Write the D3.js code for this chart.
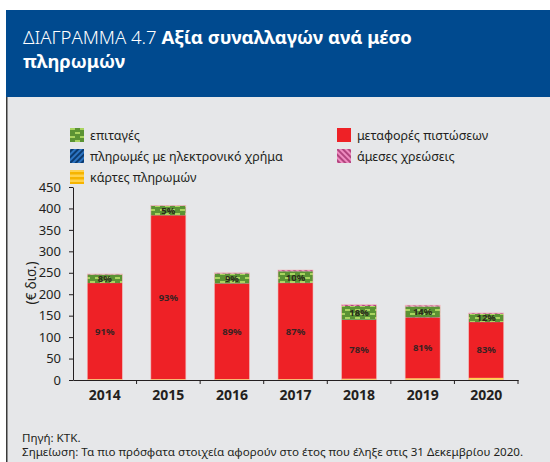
<!DOCTYPE html>
<html>
<head>
<meta charset="utf-8">
<script src="https://cdnjs.cloudflare.com/ajax/libs/d3/7.8.5/d3.min.js"></script>
<style>
	body { margin: 0; background: #fff; }
	svg { display: block; font-family: "Noto Sans", sans-serif; }
</style>
</head>
<body>
<div id="chart"></div>
<script>
//	Values in € bn
var years = ["2014", "2015", "2016", "2017", "2018", "2019", "2020"];
var cards = [2, 2, 2, 2, 3, 4, 5];
var transfers = [224, 382, 223, 224, 137, 142, 130];
var eMoney = [0.2, 0.2, 0.3, 0.5, 0.5, 0.5, 0.3];
var cheques = [20, 22, 23, 27, 32, 25, 19];
var debits = [1, 1, 1.5, 3, 3, 3, 2];

var transferLabels = ["91%", "93%", "89%", "87%", "78%", "81%", "83%"];
var chequeLabels = ["8%", "5%", "9%", "10%", "18%", "14%", "12%"];
var yTicks = [0, 50, 100, 150, 200, 250, 300, 350, 400, 450];

var seriesKeys = ["cards", "transfers", "eMoney", "cheques", "debits"];
var seriesNames = {
	cheques: "επιταγές",
	transfers: "μεταφορές πιστώσεων",
	eMoney: "πληρωμές με ηλεκτρονικό χρήμα",
	debits: "άμεσες χρεώσεις",
	cards: "κάρτες πληρωμών"
};
var legendOrder = ["cheques", "transfers", "eMoney", "debits", "cards"];

var W = 550, H = 462;

var svg = d3.select("#chart")
	.append("svg")
	.attr("width", W)
	.attr("height", H);

var defs = svg.append("defs");

function patterns() {
	//	Cheques: dark green with light dashes
	var g = defs.append("pattern")
		.attr("id", "p-cheques")
		.attr("patternUnits", "userSpaceOnUse")
		.attr("width", 10)
		.attr("height", 8);
	g.append("rect").attr("width", 10).attr("height", 8).attr("fill", "#5b9334");
	g.append("rect").attr("x", 0).attr("y", 1).attr("width", 5).attr("height", 2).attr("fill", "#a9d45f");
	g.append("rect").attr("x", 5).attr("y", 5).attr("width", 5).attr("height", 2).attr("fill", "#a9d45f");

	//	E-money: blue diagonal stripes
	var b = defs.append("pattern")
		.attr("id", "p-eMoney")
		.attr("patternUnits", "userSpaceOnUse")
		.attr("width", 4)
		.attr("height", 4)
		.attr("patternTransform", "rotate(45)");
	b.append("rect").attr("width", 4).attr("height", 4).attr("fill", "#2c74c2");
	b.append("rect").attr("width", 2).attr("height", 4).attr("fill", "#0c3b70");

	//	Direct debits: pink diagonal stripes
	var p = defs.append("pattern")
		.attr("id", "p-debits")
		.attr("patternUnits", "userSpaceOnUse")
		.attr("width", 4)
		.attr("height", 4)
		.attr("patternTransform", "rotate(-45)");
	p.append("rect").attr("width", 4).attr("height", 4).attr("fill", "#ef8cc0");
	p.append("rect").attr("width", 2).attr("height", 4).attr("fill", "#b2457f");

	//	Cards: yellow horizontal stripes
	var c = defs.append("pattern")
		.attr("id", "p-cards")
		.attr("patternUnits", "userSpaceOnUse")
		.attr("width", 4)
		.attr("height", 5);
	c.append("rect").attr("width", 4).attr("height", 5).attr("fill", "#ffd24d");
	c.append("rect").attr("y", 0).attr("width", 4).attr("height", 2.5).attr("fill", "#f6b400");
}

function fillOf(key) {
	if (key == "transfers") return "#ee2126";
	return "url(#p-" + key + ")";
}

function background() {
	svg.append("rect")
		.attr("x", 6).attr("y", 97)
		.attr("width", W - 6).attr("height", H - 97)
		.attr("fill", "#e6e7e9");

	svg.append("rect")
		.attr("x", 6).attr("y", 10)
		.attr("width", W - 6).attr("height", 87)
		.attr("fill", "#004a8f");

	//	dark left edge of the panel
	svg.append("rect")
		.attr("x", 6).attr("y", 97)
		.attr("width", 1.5).attr("height", H - 97)
		.attr("fill", "#3a3a3a");

	var t = svg.append("text")
		.attr("x", 23).attr("y", 44)
		.attr("fill", "#fff")
		.attr("font-size", 18.5);
	t.append("tspan").attr("font-weight", 300).text("ΔΙΑΓΡΑΜΜΑ 4.7 ");
	t.append("tspan").attr("font-weight", 700).text("Αξία συναλλαγών ανά μέσο");

	svg.append("text")
		.attr("x", 23).attr("y", 68)
		.attr("fill", "#fff")
		.attr("font-size", 18.5)
		.attr("font-weight", 700)
		.text("πληρωμών");
}

function legend() {
	var cols = [70, 337],
		rowY = [135, 156, 177];

	legendOrder.forEach(function(key, i) {
		var gx = cols[i % 2],
			gy = rowY[Math.floor(i / 2)];
		var item = svg.append("g").attr("transform", "translate(" + gx + "," + gy + ")");
		item.append("rect")
			.attr("x", 0).attr("y", -7)
			.attr("width", 14).attr("height", 14)
			.attr("fill", fillOf(key));
		item.append("text")
			.attr("x", 20).attr("y", 4.5)
			.attr("font-size", 12.5)
			.attr("fill", "#231f20")
			.text(seriesNames[key]);
	});
}

function chart() {
	var x = d3.scaleBand()
		.domain(years)
		.range([73, 518])
		.padding(0);

	var y = d3.scaleLinear()
		.domain([0, 450])
		.range([380, 187]);

	var rows = years.map(function(yr, i) {
		return {
			year: yr,
			cards: cards[i],
			transfers: transfers[i],
			eMoney: eMoney[i],
			cheques: cheques[i],
			debits: debits[i]
		};
	});

	var stacked = d3.stack().keys(seriesKeys)(rows);
	var barW = 35;

	var layers = svg.append("g")
		.selectAll("g")
		.data(stacked)
		.join("g")
		.attr("fill", function(d) { return fillOf(d.key); });

	layers.selectAll("rect")
		.data(function(d) { return d; })
		.join("rect")
		.attr("x", function(d) { return x(d.data.year) + (x.bandwidth() - barW) / 2; })
		.attr("y", function(d) { return y(d[1]); })
		.attr("width", barW)
		.attr("height", function(d) { return y(d[0]) - y(d[1]); });

	//	thin light outline round each bar
	svg.append("g")
		.selectAll("rect")
		.data(stacked[stacked.length - 1])
		.join("rect")
		.attr("x", function(d) { return x(d.data.year) + (x.bandwidth() - barW) / 2; })
		.attr("y", function(d) { return y(d[1]); })
		.attr("width", barW)
		.attr("height", function(d) { return y(0) - y(d[1]); })
		.attr("fill", "none")
		.attr("stroke", "#f2b8b8")
		.attr("stroke-width", 0.6);

	//	Percent labels
	var red = stacked[1], green = stacked[3];
	svg.append("g")
		.selectAll("text")
		.data(red)
		.join("text")
		.attr("x", function(d) { return x(d.data.year) + x.bandwidth() / 2; })
		.attr("y", function(d) { return (y(d[0]) + y(d[1])) / 2 + 3.5; })
		.attr("text-anchor", "middle")
		.attr("font-size", 9.5)
		.attr("font-weight", 700)
		.attr("fill", "#3a2222")
		.text(function(d, i) { return transferLabels[i]; });

	svg.append("g")
		.selectAll("text")
		.data(green)
		.join("text")
		.attr("x", function(d) { return x(d.data.year) + x.bandwidth() / 2; })
		.attr("y", function(d) { return (y(d[0]) + y(d[1])) / 2 + 3.5; })
		.attr("text-anchor", "middle")
		.attr("font-size", 9.5)
		.attr("font-weight", 700)
		.attr("fill", "#2a2a1a")
		.text(function(d, i) { return chequeLabels[i]; });

	//	Axes
	var yAxis = svg.append("g")
		.attr("transform", "translate(73,0)")
		.call(d3.axisLeft(y).tickValues(yTicks).tickSize(4).tickPadding(8).tickSizeOuter(0));
	yAxis.select(".domain").attr("stroke", "#231f20");
	yAxis.selectAll(".tick line").attr("stroke", "#231f20");
	yAxis.selectAll("text")
		.attr("font-size", 13)
		.attr("font-family", "Noto Sans, sans-serif")
		.attr("fill", "#231f20");

	var xAxis = svg.append("g")
		.attr("transform", "translate(0,380)")
		.call(d3.axisBottom(x).tickSize(0).tickPadding(10));
	xAxis.select(".domain").attr("stroke", "#231f20");
	xAxis.selectAll("text")
		.attr("font-size", 14)
		.attr("font-weight", 700)
		.attr("font-family", "Noto Sans, sans-serif")
		.attr("fill", "#231f20");

	//	tick marks between categories
	var edges = years.map(function(yr) { return x(yr); }).concat([x.range()[1]]);
	svg.append("g")
		.selectAll("line")
		.data(edges.slice(1))
		.join("line")
		.attr("x1", function(d) { return d; })
		.attr("x2", function(d) { return d; })
		.attr("y1", 380)
		.attr("y2", 384)
		.attr("stroke", "#231f20");

	svg.append("text")
		.attr("transform", "translate(36,283) rotate(-90)")
		.attr("text-anchor", "middle")
		.attr("font-size", 13.5)
		.attr("fill", "#231f20")
		.text("(€ δισ.)");
}

function footer() {
	svg.append("text")
		.attr("x", 22).attr("y", 442)
		.attr("font-size", 11.6)
		.attr("fill", "#231f20")
		.text("Πηγή: ΚΤΚ.");

	svg.append("text")
		.attr("x", 22).attr("y", 456)
		.attr("font-size", 11.6)
		.attr("fill", "#231f20")
		.text("Σημείωση: Τα πιο πρόσφατα στοιχεία αφορούν στο έτος που έληξε στις 31 Δεκεμβρίου 2020.");
}

patterns();
background();
legend();
chart();
footer();
</script>
</body>
</html>
